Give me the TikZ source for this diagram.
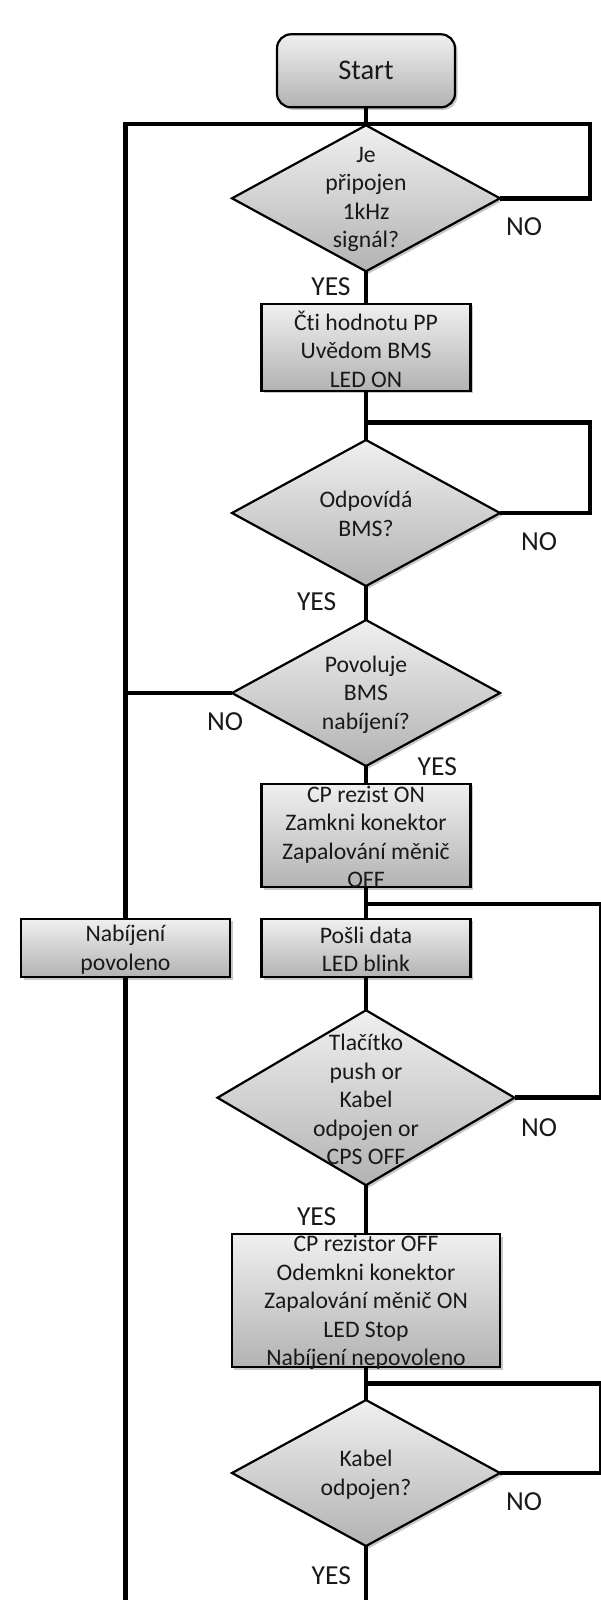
\documentclass[tikz,border=0pt]{standalone}
\usepackage{fontspec}
\setmainfont{Carlito}[Ligatures=NoCommon]
\usetikzlibrary{shapes.geometric,shadows}
\begin{document}
\begin{tikzpicture}[x=1pt,y=-1pt,
  shp/.style={draw=black, line width=2.2pt, top color=black!6, bottom color=black!30,
    drop shadow={shadow xshift=2.5pt, shadow yshift=-2.5pt, opacity=0.22, fill=black},
    inner sep=0pt, outer sep=0pt},
  box/.style={shp, rectangle},
  startbox/.style={shp, rectangle, rounded corners=14pt},
  dia/.style={shp, diamond},
  txt/.style={align=center, font=\fontsize{23.7}{28.6}\selectfont, inner sep=0pt, text=black!90},
  lbl/.style={font=\fontsize{27.5}{30}\selectfont, inner sep=0pt, text=black!90},
  conn/.style={line width=4.5pt, line join=miter}
]
\useasboundingbox (0,0) rectangle (600,1600);

% shapes
\node[startbox, minimum width=178, minimum height=73] (start) at (366,70.8) {};
\node[dia, minimum width=268, minimum height=146] (d1) at (366,198.3) {};
\node[box, minimum width=209, minimum height=87] (b2) at (366,347.2) {};
\node[dia, minimum width=268, minimum height=146] (d2) at (366,513) {};
\node[dia, minimum width=268, minimum height=146] (d3) at (366,693) {};
\node[box, minimum width=209, minimum height=103.5] (b3) at (366,835.5) {};
\node[box, minimum width=209, minimum height=58.5] (nab) at (125.5,948) {};
\node[box, minimum width=209, minimum height=58.5] (b4) at (366,948) {};
\node[dia, minimum width=297, minimum height=175] (d4) at (366,1097.7) {};
\node[box, minimum width=268.5, minimum height=133] (b5) at (366,1300.8) {};
\node[dia, minimum width=268, minimum height=146] (d5) at (366,1473) {};

% texts
\node[txt, font=\fontsize{28.5}{32}\selectfont] (tstart) at (start) {Start};
\node[txt] (t1) at (366,199.5) {Je\\připojen\\1kHz\\signál?};
\node[txt] (t2) at (366,349) {Čti hodnotu PP\\Uvědom BMS\\LED ON};
\node[txt] (t3) at (366,514) {Odpovídá\\BMS?};
\node[txt] (t4) at (366,694.5) {Povoluje\\BMS\\nabíjení?};
\node[txt] (t5) at (366,837) {CP rezist ON\\Zamkni konektor\\Zapalování měnič\\OFF};
\node[txt] (t6) at (125.5,949.5) {Nabíjení\\povoleno};
\node[txt] (t7) at (366,949.5) {Pošli data\\LED blink};
\node[txt] (t8) at (366,1099.5) {Tlačítko\\push or\\Kabel\\odpojen or\\CPS OFF};
\node[txt] (t9) at (366,1302.5) {CP rezistor OFF\\Odemkni konektor\\Zapalování měnič ON\\LED Stop\\Nabíjení nepovoleno};
\node[txt] (t10) at (366,1474.5) {Kabel\\odpojen?};

% labels
\node[lbl] (no1) at (524,226.7) {NO};
\node[lbl] (yes1) at (331,286.7) {YES};
\node[lbl] (no2) at (539,541.7) {NO};
\node[lbl] (yes2) at (316.7,601.7) {YES};
\node[lbl] (no3) at (225,721.7) {NO};
\node[lbl] (yes3) at (437.3,766.7) {YES};
\node[lbl] (no4) at (539,1127.3) {NO};
\node[lbl] (yes4) at (316.7,1216.7) {YES};
\node[lbl] (no5) at (524,1501.7) {NO};
\node[lbl] (yes5) at (331.3,1576) {YES};

% junction coordinates
\coordinate (L0) at (125.5,124);
\coordinate (R0) at (590,124);
\coordinate (j1) at (366,422.7);
\coordinate (R1) at (590,422.7);
\coordinate (L3) at (125.5,693);
\coordinate (j3) at (366,904);
\coordinate (R3) at (601,904);
\coordinate (j4) at (366,1383.3);
\coordinate (R4) at (601,1383.3);
\coordinate (bot) at (366,1604);
\coordinate (Lbot) at (125.5,1604);

% connectors
\draw[conn] (start) -- (d1);
\draw[conn] (d1.east) -| (R0) -- (L0) -- (nab);
\draw[conn] (d1) -- (b2);
\draw[conn] (b2) -- (d2);
\draw[conn] (d2.east) -| (R1) -- (j1);
\draw[conn] (d2) -- (d3);
\draw[conn] (d3.west) -- (L3);
\draw[conn] (d3) -- (b3);
\draw[conn] (b3) -- (b4);
\draw[conn] (d4.east) -| (R3) -- (j3);
\draw[conn] (b4) -- (d4);
\draw[conn] (d4) -- (b5);
\draw[conn] (b5) -- (d5);
\draw[conn] (d5.east) -| (R4) -- (j4);
\draw[conn] (d5) -- (bot);
\draw[conn] (nab) -- (Lbot);
\end{tikzpicture}
\end{document}
